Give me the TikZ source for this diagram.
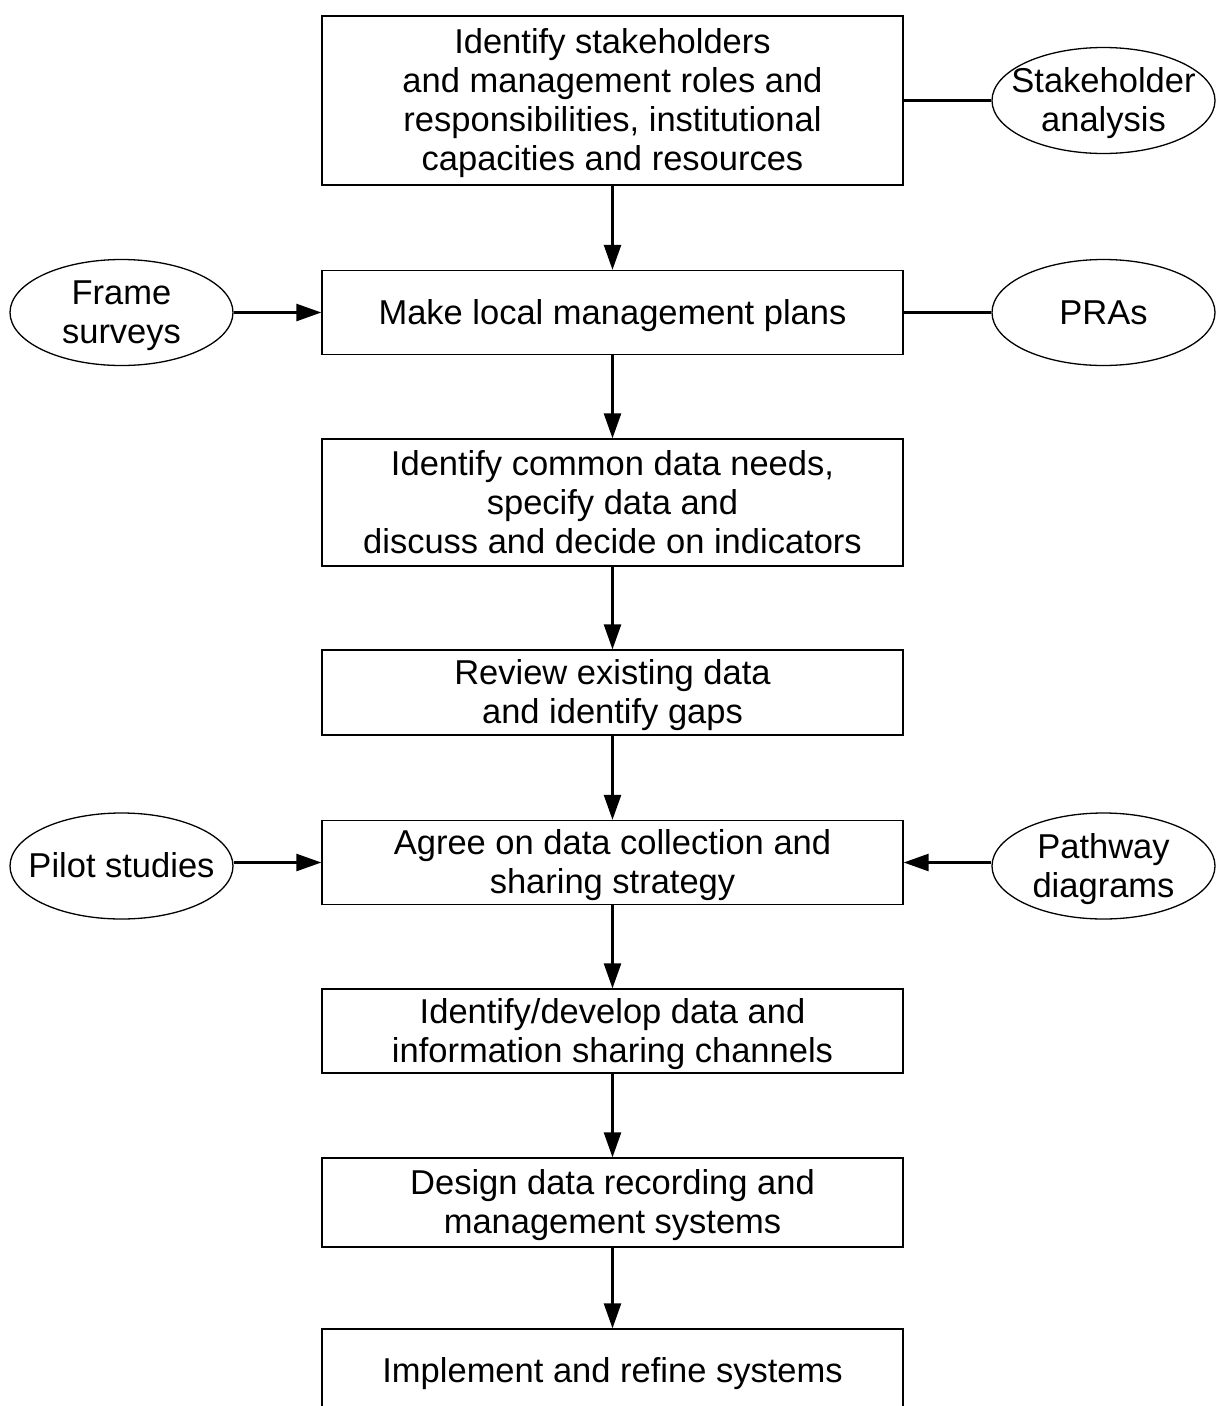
\documentclass[tikz,border=0pt]{standalone}
\usepackage{fontspec}
\setmainfont{Liberation Sans}
\usetikzlibrary{shapes.geometric,arrows.meta}
% struts that even out the first-line height and last-line depth
\newcommand{\topstr}{\rule{0pt}{31pt}}
\newcommand{\botstr}{\rule[-7.5pt]{0pt}{7.5pt}}
\begin{document}
\begin{tikzpicture}[x=1pt,y=-1pt,
  txt/.style={font=\fontsize{34.5}{39}\selectfont, align=center, inner sep=0pt},
  box/.style={txt, draw, line width=1.3pt, minimum width=581pt},
  oval/.style={draw, ellipse, line width=1.3pt, minimum width=223pt, minimum height=106pt, inner sep=0pt},
  flow/.style={line width=2.5pt, -{Triangle[length=25pt,width=17pt]}},
  link/.style={line width=2.5pt}]
\useasboundingbox (0,0) rectangle (1220,1406);
\clip (0,0) rectangle (1220,1406);

% main process steps
\node[box, minimum height=169pt] (b1) at (612.5,100.5)
  {\topstr Identify stakeholders\\and management roles and\\responsibilities, institutional\\capacities and resources\botstr};
\node[box, minimum height=84pt] (b2) at (612.5,312.5) {\topstr Make local management plans\botstr};
\node[box, minimum height=127pt] (b3) at (612.5,502.5)
  {\topstr Identify common data needs,\\specify data and\\discuss and decide on indicators\botstr};
\node[box, minimum height=85pt] (b4) at (612.5,692.5) {\topstr Review existing data\\and identify gaps\botstr};
\node[box, minimum height=84pt] (b5) at (612.5,862.5) {\topstr Agree on data collection and\\sharing strategy\botstr};
\node[box, minimum height=84pt] (b6) at (612.5,1031) {\topstr Identify/develop data and\\information sharing channels\botstr};
\node[box, minimum height=89pt] (b7) at (612.5,1202.5) {\topstr Design data recording and\\management systems\botstr};
\node[box, minimum height=84pt] (b8) at (612.5,1371) {\topstr Implement and refine systems\botstr};

% supporting tools
\node[oval] (sa) at (1103.5,100.5) {};
\node[txt] (sat) at (sa) {\topstr Stakeholder\\analysis\botstr};
\node[oval] (pr) at (1103.5,312.5) {};
\node[txt] (prt) at (pr) {\topstr PRAs\botstr};
\node[oval] (fs) at (121.5,312.5) {};
\node[txt] (fst) at (fs) {\topstr Frame\\surveys\botstr};
\node[oval] (ps) at (121.5,866) {};
\node[txt] (pst) at (ps) {\topstr Pilot studies\botstr};
\node[oval] (pd) at (1103.5,866) {};
\node[txt] (pdt) at (pd) {\topstr Pathway\\diagrams\botstr};

% vertical flow
\draw[flow] (b1) -- (b2);
\draw[flow] (b2) -- (b3);
\draw[flow] (b3) -- (b4);
\draw[flow] (b4) -- (b5);
\draw[flow] (b5) -- (b6);
\draw[flow] (b6) -- (b7);
\draw[flow] (b7) -- (b8);

% side links
\draw[link] (b1.east) -- (sa.west);
\draw[link] (b2.east) -- (pr.west);
\draw[flow] (fs.east) -- (b2.west);
\draw[flow] (ps.east |- b5.west) -- (b5.west);
\draw[flow] (pd.west |- b5.east) -- (b5.east);
\end{tikzpicture}
\end{document}
